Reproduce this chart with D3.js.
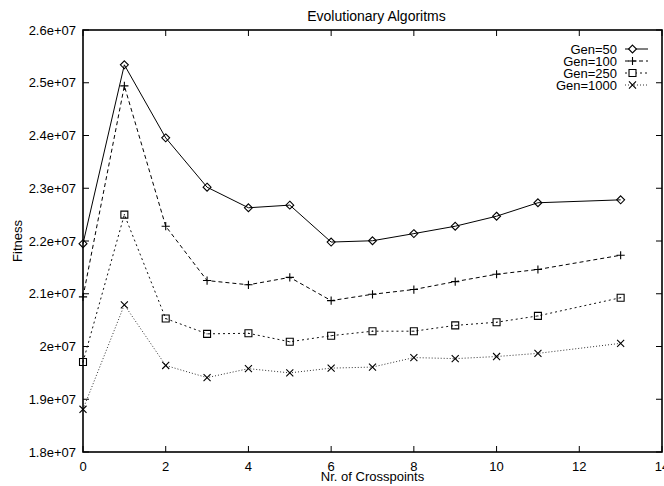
<!DOCTYPE html>
<html>
<head>
<meta charset="utf-8">
<script src="https://cdn.jsdelivr.net/npm/d3@7"></script>
<style>
  body { margin: 0; background: #fff; }
  svg { display: block; }
  text { font-family: "Liberation Sans", Arial, sans-serif; font-size: 13px; fill: #000; }
</style>
</head>
<body>
<svg id="svg_fitness" width="664" height="486"></svg>
<script>
const crosspoints = [0, 1, 2, 3, 4, 5, 6, 7, 8, 9, 10, 11, 13];

const gen50 = [2.195e7, 2.534e7, 2.3955e7, 2.302e7, 2.263e7, 2.268e7, 2.198e7, 2.2005e7, 2.214e7, 2.228e7, 2.247e7, 2.2725e7, 2.278e7];
const gen100 = [2.094e7, 2.494e7, 2.228e7, 2.125e7, 2.117e7, 2.131e7, 2.087e7, 2.099e7, 2.108e7, 2.123e7, 2.137e7, 2.146e7, 2.173e7];
const gen250 = [1.9705e7, 2.250e7, 2.053e7, 2.024e7, 2.025e7, 2.009e7, 2.0205e7, 2.029e7, 2.029e7, 2.040e7, 2.046e7, 2.058e7, 2.0925e7];
const gen1000 = [1.881e7, 2.079e7, 1.964e7, 1.941e7, 1.958e7, 1.950e7, 1.959e7, 1.961e7, 1.979e7, 1.977e7, 1.981e7, 1.987e7, 2.006e7];

const seriesNames = ['Gen=50', 'Gen=100', 'Gen=250', 'Gen=1000'];
const xTicks = [0, 2, 4, 6, 8, 10, 12, 14];
const yTicks = [1.8e7, 1.9e7, 2.0e7, 2.1e7, 2.2e7, 2.3e7, 2.4e7, 2.5e7, 2.6e7];
const yTickLabels = ['1.8e+07', '1.9e+07', '2e+07', '2.1e+07', '2.2e+07', '2.3e+07', '2.4e+07', '2.5e+07', '2.6e+07'];

const width = 664;
const height = 486;
const margin = { top: 30, right: 2, bottom: 34, left: 83 };

const series = [gen50, gen100, gen250, gen1000].map((values, i) => ({
  name: seriesNames[i],
  points: values.map((v, j) => ({ x: crosspoints[j], y: v }))
}));

// gnuplot-ish line types and point types
const dashes = [null, '4,3', '2,3', '1,2'];
const strokes = ['#000', '#000', '#111', '#333'];
const symbols = [
  d3.symbol().type(d3.symbolDiamond2).size(40),
  d3.symbol().type(d3.symbolPlus).size(24),
  d3.symbol().type(d3.symbolSquare2).size(62),
  d3.symbol().type(d3.symbolTimes).size(34)
];

const xscale = d3.scaleLinear()
  .domain([0, 14])
  .range([margin.left, width - margin.right]);

const yscale = d3.scaleLinear()
  .domain([1.8e7, 2.6e7])
  .range([height - margin.bottom, margin.top]);

const svg = d3.select('#svg_fitness');

// ticks, drawn inward on all four sides
const tickLen = 6;
const axes = svg.append('g').attr('stroke', '#000').attr('stroke-width', 1);

axes.selectAll('.xtb')
  .data(xTicks)
  .enter()
  .append('line')
  .attr('x1', (d) => xscale(d)).attr('x2', (d) => xscale(d))
  .attr('y1', height - margin.bottom).attr('y2', height - margin.bottom - tickLen);

axes.selectAll('.xtt')
  .data(xTicks)
  .enter()
  .append('line')
  .attr('x1', (d) => xscale(d)).attr('x2', (d) => xscale(d))
  .attr('y1', margin.top).attr('y2', margin.top + tickLen);

axes.selectAll('.ytl')
  .data(yTicks)
  .enter()
  .append('line')
  .attr('y1', (d) => yscale(d)).attr('y2', (d) => yscale(d))
  .attr('x1', margin.left).attr('x2', margin.left + tickLen);

axes.selectAll('.ytr')
  .data(yTicks)
  .enter()
  .append('line')
  .attr('y1', (d) => yscale(d)).attr('y2', (d) => yscale(d))
  .attr('x1', width - margin.right).attr('x2', width - margin.right - tickLen);

svg.append('g')
  .selectAll('text')
  .data(xTicks)
  .enter()
  .append('text')
  .attr('x', (d) => xscale(d))
  .attr('y', height - margin.bottom + 19)
  .attr('text-anchor', 'middle')
  .text((d) => d);

svg.append('g')
  .selectAll('text')
  .data(yTicks)
  .enter()
  .append('text')
  .attr('x', margin.left - 7)
  .attr('y', (d) => yscale(d) + 4.5)
  .attr('text-anchor', 'end')
  .text((d, i) => yTickLabels[i]);

// titles
svg.append('text')
  .text('Evolutionary Algoritms')
  .attr('x', (margin.left + width - margin.right) / 2 + 4)
  .attr('y', 21)
  .attr('text-anchor', 'middle')
  .style('font-size', '14px');

svg.append('text')
  .text('Nr. of Crosspoints')
  .attr('x', (margin.left + width - margin.right) / 2)
  .attr('y', 481)
  .attr('text-anchor', 'middle');

svg.append('text')
  .text('Fitness')
  .attr('transform', `translate(22, ${(margin.top + height - margin.bottom) / 2}) rotate(-90)`)
  .attr('text-anchor', 'middle');

// lines
const line = d3.line()
  .x((d) => xscale(d.x))
  .y((d) => yscale(d.y));

const plot = svg.append('g');

plot.selectAll('path.series')
  .data(series)
  .enter()
  .append('path')
  .attr('class', 'series')
  .attr('d', (d) => line(d.points))
  .attr('fill', 'none')
  .attr('stroke', (d, i) => strokes[i])
  .attr('stroke-width', 1)
  .attr('stroke-dasharray', (d, i) => dashes[i]);

series.forEach((s, i) => {
  plot.append('g')
    .selectAll('path')
    .data(s.points)
    .enter()
    .append('path')
    .attr('d', symbols[i])
    .attr('transform', (d) => `translate(${xscale(d.x)}, ${yscale(d.y)})`)
    .attr('fill', 'none')
    .attr('stroke', '#000')
    .attr('stroke-width', 1.1);
  if (i === 2) {
    plot.append('g')
      .selectAll('circle')
      .data(s.points)
      .enter()
      .append('circle')
      .attr('cx', (d) => xscale(d.x))
      .attr('cy', (d) => yscale(d.y))
      .attr('r', 0.6)
      .attr('fill', '#000');
  }
});

// key
const key = svg.append('g');
const keyTextX = 617;
const keyLine = [625, 648];

seriesNames.forEach((name, i) => {
  const ky = 49 + i * 12;
  key.append('text')
    .text(name)
    .attr('x', keyTextX)
    .attr('y', ky + 4.5)
    .attr('text-anchor', 'end');
  key.append('line')
    .attr('x1', keyLine[0]).attr('x2', keyLine[1])
    .attr('y1', ky).attr('y2', ky)
    .attr('stroke', strokes[i])
    .attr('stroke-width', 1)
    .attr('stroke-dasharray', dashes[i]);
  key.append('path')
    .attr('d', symbols[i])
    .attr('transform', `translate(${(keyLine[0] + keyLine[1]) / 2 - 4}, ${ky})`)
    .attr('fill', '#fff')
    .attr('stroke', '#000')
    .attr('stroke-width', 1.1);
});

// border
svg.append('rect')
  .attr('x', margin.left)
  .attr('y', margin.top)
  .attr('width', width - margin.left - margin.right)
  .attr('height', height - margin.top - margin.bottom)
  .attr('fill', 'none')
  .attr('stroke', '#000')
  .attr('stroke-width', 1.6);
</script>
</body>
</html>
